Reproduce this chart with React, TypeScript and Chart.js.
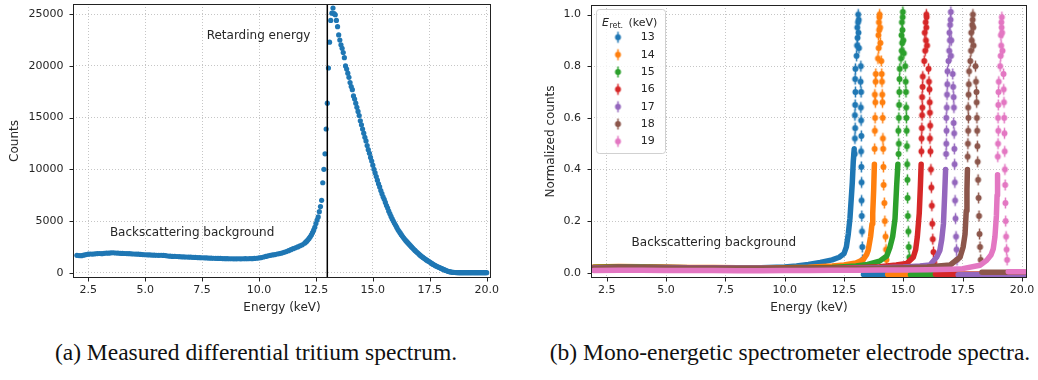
import React, { useEffect, useRef } from "react";
import { Chart, registerables } from "chart.js";

Chart.register(...registerables);

const FONT_FAMILY = '"DejaVu Sans", Verdana, sans-serif';
const TEXT_COLOR = "#262626";
const SERIES_COLORS = ["#1f77b4", "#ff7f0e", "#2ca02c", "#d62728", "#9467bd", "#8c564b", "#e377c2"];

// ---------------- data ----------------
const energyTicks = [2.5, 5, 7.5, 10, 12.5, 15, 17.5, 20];
const countTicks = [0, 5000, 10000, 15000, 20000, 25000];
const normTicks = [0, 0.2, 0.4, 0.6, 0.8, 1.0];
const retardingEnergy = 13;

// (a) measured differential tritium spectrum
const tritiumEnergy = [
  2.0, 2.1, 2.2, 2.3, 2.4, 2.5, 2.6, 2.7, 2.8, 2.9,
  3.0, 3.1, 3.2, 3.3, 3.4, 3.5, 3.6, 3.7, 3.8, 3.9,
  4.0, 4.1, 4.2, 4.3, 4.4, 4.5, 4.6, 4.7, 4.8, 4.9,
  5.0, 5.1, 5.2, 5.3, 5.4, 5.5, 5.6, 5.7, 5.8, 5.9,
  6.0, 6.1, 6.2, 6.3, 6.4, 6.5, 6.6, 6.7, 6.8, 6.9,
  7.0, 7.1, 7.2, 7.3, 7.4, 7.5, 7.6, 7.7, 7.8, 7.9,
  8.0, 8.1, 8.2, 8.3, 8.4, 8.5, 8.6, 8.7, 8.8, 8.9,
  9.0, 9.1, 9.2, 9.3, 9.4, 9.5, 9.6, 9.7, 9.8, 9.9,
  10.0, 10.1, 10.2, 10.3, 10.4, 10.5, 10.6, 10.7, 10.8, 10.9,
  11.0, 11.1, 11.2, 11.3, 11.4, 11.5, 11.6, 11.7, 11.8, 11.9,
  12.0,
  12.05, 12.1, 12.15, 12.2, 12.25, 12.3, 12.35, 12.4, 12.45, 12.5,
  12.55, 12.6, 12.65, 12.7, 12.75, 12.8, 12.85, 12.9, 12.95, 13.0,
  13.05, 13.1, 13.15, 13.2, 13.25, 13.3, 13.35, 13.4, 13.45, 13.5,
  13.55, 13.6, 13.65, 13.7, 13.75, 13.8, 13.85, 13.9, 13.95, 14.0,
  14.05, 14.1, 14.15, 14.2, 14.25, 14.3, 14.35, 14.4, 14.45, 14.5,
  14.55, 14.6, 14.65, 14.7, 14.75, 14.8, 14.85, 14.9, 14.95, 15.0,
  15.05, 15.1, 15.15, 15.2, 15.25, 15.3, 15.35, 15.4, 15.45, 15.5,
  15.55, 15.6, 15.65, 15.7, 15.75, 15.8, 15.85, 15.9, 15.95, 16.0,
  16.05, 16.1, 16.15, 16.2, 16.25, 16.3, 16.35, 16.4, 16.45, 16.5,
  16.55, 16.6, 16.65, 16.7, 16.75, 16.8, 16.85, 16.9, 16.95, 17.0,
  17.05, 17.1, 17.15, 17.2, 17.25, 17.3, 17.35, 17.4, 17.45, 17.5,
  17.55, 17.6, 17.65, 17.7, 17.75, 17.8, 17.85, 17.9, 17.95, 18.0,
  18.05, 18.1, 18.15, 18.2, 18.25, 18.3, 18.35, 18.4, 18.45, 18.5,
  18.55, 18.6, 18.65, 18.7, 18.75, 18.8, 18.85, 18.9, 18.95, 19.0,
  19.05, 19.1, 19.15, 19.2, 19.25, 19.3, 19.35, 19.4, 19.45, 19.5,
  19.55, 19.6, 19.65, 19.7, 19.75, 19.8, 19.85, 19.9, 19.95, 20.0,
];
const tritiumCounts = [
  1680, 1660, 1650, 1700, 1760, 1790, 1810, 1800, 1830, 1850,
  1860, 1840, 1880, 1900, 1890, 1920, 1930, 1910, 1900, 1880,
  1870, 1860, 1850, 1840, 1830, 1810, 1800, 1790, 1770, 1760,
  1740, 1730, 1720, 1710, 1700, 1690, 1680, 1690, 1670, 1660,
  1620, 1600, 1580, 1590, 1570, 1550, 1540, 1530, 1520, 1510,
  1500, 1490, 1480, 1470, 1460, 1450, 1440, 1430, 1420, 1410,
  1400, 1390, 1380, 1380, 1370, 1360, 1360, 1350, 1350, 1340,
  1340, 1350, 1340, 1350, 1360, 1350, 1370, 1360, 1380, 1400,
  1430, 1470, 1520, 1580, 1630, 1680, 1720, 1760, 1810, 1850,
  1900, 1970, 2050, 2130, 2230, 2330, 2410, 2500, 2600, 2700,
  2850,
  2950, 3050, 3180, 3320, 3480, 3660, 3870, 4120, 4400, 4750,
  5100, 5400, 5900, 6400, 7000, 8700, 10000, 11500, 13900, 16400,
  19800, 22300, 24400, 25100, 25600, 25050, 24950, 24400, 23800, 23000,
  22500, 22050, 21700, 21300, 20800, 20000, 19700, 19300, 18900, 18400,
  18000, 17700, 17100, 16800, 16400, 16000, 15600, 15200, 14700, 14300,
  13900, 13500, 13100, 12750, 12300, 11900, 11550, 11150, 10800, 10400,
  10000, 9650, 9300, 8950, 8600, 8300, 7950, 7650, 7350, 7100,
  6800, 6500, 6250, 5950, 5700, 5450, 5200, 5000, 4780, 4580,
  4380, 4180, 4000, 3850, 3680, 3520, 3380, 3240, 3100, 2980,
  2860, 2740, 2620, 2500, 2380, 2270, 2160, 2050, 1950, 1850,
  1750, 1650, 1560, 1480, 1400, 1320, 1240, 1170, 1100, 1030,
  960, 880, 800, 740, 680, 620, 570, 520, 470, 420,
  370, 320, 270, 220, 180, 140, 110, 80, 60, 40,
  30, 20, 15, 10, 8, 6, 5, 4, 4, 3,
  3, 3, 2, 2, 2, 2, 2, 2, 2, 2,
  2, 2, 2, 2, 2, 2, 2, 2, 2, 2,
];

// (b) mono-energetic electrode spectra: [energy keV, normalized counts]
const electrodeEnergies = [13, 14, 15, 16, 17, 18, 19];

// dense continuum below each peak (background + rising edge)
const rise13 = [[1.95, 0.021], [3, 0.022], [4, 0.021], [5, 0.02], [6, 0.019], [7, 0.019], [8, 0.018], [9, 0.019], [10, 0.022], [10.5, 0.026], [11, 0.032], [11.5, 0.04], [12, 0.05], [12.3, 0.06], [12.5, 0.074], [12.6, 0.1], [12.68, 0.15], [12.75, 0.21], [12.8, 0.28], [12.85, 0.35], [12.89, 0.43], [12.93, 0.48]];
const rise14 = [[1.95, 0.022], [3, 0.024], [4, 0.023], [5, 0.021], [6, 0.02], [7, 0.02], [8, 0.019], [9, 0.019], [10, 0.019], [11, 0.021], [12, 0.026], [12.5, 0.03], [13, 0.038], [13.3, 0.05], [13.45, 0.07], [13.52, 0.087], [13.62, 0.14], [13.68, 0.19], [13.71, 0.23], [13.75, 0.32], [13.78, 0.42]];
const rise15 = [[1.95, 0.02], [3, 0.023], [4, 0.022], [5, 0.02], [6, 0.019], [7, 0.018], [8, 0.018], [9, 0.018], [10, 0.018], [11, 0.018], [12, 0.02], [13, 0.026], [13.5, 0.032], [14, 0.045], [14.3, 0.065], [14.44, 0.1], [14.55, 0.14], [14.65, 0.21], [14.72, 0.34], [14.77, 0.42]];
const rise16 = [[1.95, 0.019], [3, 0.021], [4, 0.02], [5, 0.02], [6, 0.019], [7, 0.018], [8, 0.017], [9, 0.017], [10, 0.017], [11, 0.017], [12, 0.017], [13, 0.019], [14, 0.023], [14.7, 0.03], [15.14, 0.036], [15.42, 0.06], [15.52, 0.09], [15.59, 0.14], [15.67, 0.23], [15.72, 0.34], [15.75, 0.42]];
const rise17 = [[1.95, 0.018], [3, 0.02], [4, 0.02], [5, 0.019], [6, 0.018], [7, 0.018], [8, 0.017], [9, 0.017], [10, 0.016], [11, 0.016], [12, 0.016], [13, 0.017], [14, 0.019], [15, 0.022], [15.7, 0.026], [16.12, 0.03], [16.4, 0.06], [16.54, 0.087], [16.62, 0.13], [16.69, 0.19], [16.74, 0.3], [16.78, 0.4]];
const rise18 = [[1.95, 0.017], [3, 0.019], [4, 0.019], [5, 0.018], [6, 0.017], [7, 0.017], [8, 0.016], [9, 0.016], [10, 0.016], [11, 0.016], [12, 0.016], [13, 0.016], [14, 0.017], [15, 0.019], [16, 0.022], [16.97, 0.03], [17.39, 0.06], [17.52, 0.1], [17.6, 0.15], [17.65, 0.24], [17.68, 0.32], [17.7, 0.4]];
const rise19 = [[1.95, 0.009], [3, 0.01], [4, 0.01], [5, 0.009], [6, 0.009], [7, 0.009], [8, 0.008], [9, 0.008], [10, 0.009], [11, 0.009], [12, 0.01], [13, 0.01], [14, 0.011], [15, 0.011], [16, 0.012], [17, 0.014], [17.5, 0.016], [18.23, 0.029], [18.51, 0.048], [18.7, 0.07], [18.79, 0.093], [18.86, 0.14], [18.92, 0.22], [18.95, 0.3], [18.97, 0.38]];

// individual points around each peak
const peak13 = [[12.95, 0.46], [12.96, 0.52], [12.97, 0.56], [12.96, 0.61], [12.97, 0.65], [12.98, 0.7], [12.97, 0.75], [12.98, 0.79], [13.03, 0.84], [13.05, 0.88], [13.07, 0.91], [13.06, 0.95], [13.09, 0.97], [13.1, 1.0], [13.12, 0.98], [13.11, 0.93], [13.13, 0.87], [13.21, 0.8], [13.2, 0.74], [13.22, 0.7], [13.21, 0.64], [13.22, 0.59], [13.23, 0.53], [13.22, 0.47], [13.23, 0.41], [13.24, 0.35], [13.24, 0.28], [13.25, 0.22], [13.26, 0.16], [13.27, 0.1], [13.28, 0.05]];
const peak14 = [[13.79, 0.48], [13.8, 0.55], [13.81, 0.6], [13.82, 0.66], [13.8, 0.69], [13.83, 0.74], [13.84, 0.77], [13.93, 0.83], [13.96, 0.87], [13.95, 0.92], [13.98, 0.94], [13.97, 0.97], [13.99, 0.99], [14.0, 1.0], [14.02, 0.95], [14.03, 0.89], [14.07, 0.82], [14.09, 0.77], [14.1, 0.74], [14.11, 0.69], [14.12, 0.66], [14.13, 0.6], [14.14, 0.52], [14.15, 0.48], [14.16, 0.41], [14.17, 0.34], [14.2, 0.27], [14.22, 0.2], [14.25, 0.14], [14.27, 0.09], [14.29, 0.05]];
const peak15 = [[14.8, 0.46], [14.81, 0.5], [14.79, 0.55], [14.81, 0.6], [14.82, 0.65], [14.83, 0.7], [14.84, 0.75], [14.85, 0.79], [14.9, 0.83], [14.93, 0.86], [14.95, 0.89], [14.92, 0.92], [14.96, 0.94], [14.94, 0.97], [14.97, 0.99], [14.98, 1.01], [15.0, 0.9], [15.02, 0.85], [15.08, 0.8], [15.1, 0.74], [15.11, 0.7], [15.12, 0.64], [15.13, 0.6], [15.14, 0.55], [15.15, 0.49], [15.16, 0.42], [15.17, 0.36], [15.18, 0.29], [15.19, 0.22], [15.21, 0.16], [15.23, 0.1], [15.25, 0.06]];
const peak16 = [[15.76, 0.47], [15.77, 0.52], [15.78, 0.56], [15.79, 0.61], [15.8, 0.64], [15.79, 0.68], [15.81, 0.72], [15.82, 0.76], [15.88, 0.82], [15.92, 0.86], [15.95, 0.9], [15.9, 0.93], [15.97, 0.95], [15.94, 0.97], [15.98, 0.99], [15.97, 1.0], [16.0, 0.88], [16.06, 0.79], [16.08, 0.74], [16.1, 0.71], [16.11, 0.66], [16.12, 0.62], [16.13, 0.57], [16.12, 0.52], [16.14, 0.47], [16.16, 0.4], [16.18, 0.33], [16.2, 0.26], [16.22, 0.19], [16.24, 0.13], [16.27, 0.08], [16.3, 0.04]];
const peak17 = [[16.8, 0.46], [16.81, 0.5], [16.82, 0.55], [16.81, 0.6], [16.83, 0.64], [16.84, 0.69], [16.85, 0.73], [16.86, 0.78], [16.9, 0.82], [16.93, 0.86], [16.96, 0.9], [16.94, 0.93], [16.97, 0.96], [16.99, 0.98], [17.0, 1.01], [17.02, 0.9], [17.01, 0.84], [17.08, 0.77], [17.1, 0.72], [17.12, 0.68], [17.13, 0.64], [17.12, 0.58], [17.14, 0.54], [17.15, 0.48], [17.16, 0.42], [17.17, 0.35], [17.18, 0.28], [17.2, 0.21], [17.22, 0.14], [17.24, 0.09], [17.26, 0.05]];
const peak18 = [[17.71, 0.45], [17.72, 0.5], [17.73, 0.55], [17.74, 0.6], [17.73, 0.64], [17.75, 0.69], [17.76, 0.73], [17.77, 0.78], [17.82, 0.82], [17.85, 0.86], [17.88, 0.9], [17.86, 0.93], [17.9, 0.96], [17.92, 0.98], [17.93, 1.0], [17.95, 0.95], [17.96, 0.88], [18.04, 0.8], [18.06, 0.74], [18.08, 0.7], [18.09, 0.66], [18.1, 0.6], [18.11, 0.55], [18.12, 0.49], [18.13, 0.43], [18.15, 0.36], [18.17, 0.29], [18.19, 0.22], [18.21, 0.15], [18.23, 0.1], [18.26, 0.05]];
const peak19 = [[18.98, 0.45], [18.99, 0.5], [19.0, 0.55], [18.99, 0.6], [19.0, 0.65], [19.01, 0.7], [19.02, 0.74], [19.08, 0.8], [19.1, 0.84], [19.12, 0.88], [19.11, 0.92], [19.14, 0.95], [19.13, 0.97], [19.15, 0.99], [19.16, 0.93], [19.18, 0.86], [19.22, 0.77], [19.23, 0.71], [19.24, 0.66], [19.25, 0.6], [19.26, 0.54], [19.27, 0.47], [19.28, 0.4], [19.29, 0.34], [19.3, 0.27], [19.31, 0.2], [19.33, 0.14], [19.35, 0.09], [19.37, 0.05]];

// continuum above each peak
const tail13 = [[13.32, -0.007], [15, -0.008], [17, -0.007], [20.1, -0.007]];
const tail14 = [[14.34, -0.007], [16, -0.007], [18, -0.007], [20.1, -0.007]];
const tail15 = [[15.3, -0.008], [17, -0.008], [20.1, -0.008]];
const tail16 = [[16.35, -0.006], [18, -0.006], [20.1, -0.006]];
const tail17 = [[17.31, -0.008], [19, -0.008], [20.1, -0.008]];
const tail18 = [[18.31, 0.002], [19.2, 0.002], [20.1, 0.002]];
const tail19 = [[19.42, 0.004], [20.12, 0.004]];

const riseSets = [rise13, rise14, rise15, rise16, rise17, rise18, rise19];
const peakSets = [peak13, peak14, peak15, peak16, peak17, peak18, peak19];
const tailSets = [tail13, tail14, tail15, tail16, tail17, tail18, tail19];

// ---------------- helpers ----------------
Chart.defaults.font.family = FONT_FAMILY;
Chart.defaults.font.size = 11;
Chart.defaults.color = TEXT_COLOR;

type Note = { text: string; x: number; y: number };

function makeMarker(color: string): HTMLCanvasElement {
  const c = document.createElement("canvas");
  c.width = 9;
  c.height = 14;
  const g = c.getContext("2d")!;
  g.strokeStyle = color;
  g.lineWidth = 1.5;
  g.beginPath();
  g.moveTo(4.5, 1.5);
  g.lineTo(4.5, 12.5);
  g.stroke();
  g.fillStyle = color;
  g.beginPath();
  g.arc(4.5, 7, 3, 0, Math.PI * 2);
  g.fill();
  return c;
}

function zeroPad(s: any) {
  s.paddingTop = 0;
  s.paddingBottom = 0;
  s.paddingLeft = 0;
  s.paddingRight = 0;
}

function xAxis(min: number, max: number) {
  return {
    type: "linear" as const,
    min,
    max,
    afterBuildTicks: (s: any) => {
      s.ticks = energyTicks.map((v) => ({ value: v }));
    },
    afterFit: (s: any) => {
      s.height = 42;
      zeroPad(s);
    },
    ticks: {
      autoSkip: false,
      maxRotation: 0,
      padding: 6,
      color: TEXT_COLOR,
      font: { size: 11 },
      callback: (v: any) => Number(v).toFixed(1),
    },
    grid: { color: "#b8b8b8", lineWidth: 0.8, drawTicks: false },
    border: { display: false, dash: [1, 2] },
    title: { display: true, text: "Energy (keV)", color: TEXT_COLOR, font: { size: 12 }, padding: { top: 0, bottom: 4.8 } },
  };
}

function yAxis(min: number, max: number, tickVals: number[], fmt: (v: number) => string, title: string, width: number, titlePad: number, pad: number) {
  return {
    type: "linear" as const,
    min,
    max,
    afterBuildTicks: (s: any) => {
      s.ticks = tickVals.map((v) => ({ value: v }));
    },
    afterFit: (s: any) => {
      s.width = width;
      zeroPad(s);
    },
    ticks: {
      autoSkip: false,
      padding: pad,
      color: TEXT_COLOR,
      font: { size: 11 },
      callback: (v: any) => fmt(Number(v)),
    },
    grid: { color: "#b8b8b8", lineWidth: 0.8, drawTicks: false },
    border: { display: false, dash: [1, 2] },
    title: { display: true, text: title, color: TEXT_COLOR, font: { size: 12 }, padding: { top: titlePad, bottom: 0 } },
  };
}

function decorPlugin(cfg: { vline?: number; notes: Note[]; legend?: { labels: string[]; markers: HTMLCanvasElement[] } }) {
  return {
    id: "decor",
    afterDatasetsDraw(chart: any) {
      const { ctx, chartArea: a } = chart;
      const xs = chart.scales.x;
      const ys = chart.scales.y;
      ctx.save();
      if (cfg.vline != null) {
        const px = xs.getPixelForValue(cfg.vline);
        ctx.strokeStyle = "#000";
        ctx.lineWidth = 1.5;
        ctx.beginPath();
        ctx.moveTo(px, a.top);
        ctx.lineTo(px, a.bottom);
        ctx.stroke();
      }
      ctx.font = `12px ${FONT_FAMILY}`;
      ctx.fillStyle = TEXT_COLOR;
      ctx.textBaseline = "middle";
      ctx.textAlign = "left";
      for (const n of cfg.notes) {
        ctx.fillText(n.text, xs.getPixelForValue(n.x), ys.getPixelForValue(n.y));
      }
      // frame
      const L = Math.round(a.left) + 0.5;
      const T = Math.round(a.top) + 0.5;
      const R = Math.round(a.right) - 0.5;
      const B = Math.round(a.bottom) - 0.5;
      ctx.strokeStyle = "#222";
      ctx.lineWidth = 1;
      ctx.setLineDash([]);
      ctx.strokeRect(L, T, R - L, B - T);
      // tick marks
      ctx.beginPath();
      for (const t of xs.ticks) {
        const px = Math.round(xs.getPixelForValue(t.value)) + 0.5;
        ctx.moveTo(px, B);
        ctx.lineTo(px, B + 4);
      }
      for (const t of ys.ticks) {
        const py = Math.round(ys.getPixelForValue(t.value)) + 0.5;
        ctx.moveTo(L - 4, py);
        ctx.lineTo(L, py);
      }
      ctx.stroke();
      // legend
      if (cfg.legend) {
        const lx = a.left + 5;
        const ly = a.top + 4;
        ctx.beginPath();
        ctx.roundRect(Math.round(lx) + 0.5, Math.round(ly) + 0.5, 69, 144, 3);
        ctx.fillStyle = "rgba(255,255,255,0.8)";
        ctx.fill();
        ctx.strokeStyle = "rgba(204,204,204,0.9)";
        ctx.lineWidth = 1;
        ctx.stroke();
        ctx.fillStyle = TEXT_COLOR;
        ctx.textBaseline = "alphabetic";
        ctx.font = `italic 11px ${FONT_FAMILY}`;
        ctx.fillText("E", a.left + 11, a.top + 20.5);
        const eW = ctx.measureText("E").width;
        ctx.font = `8px ${FONT_FAMILY}`;
        ctx.fillText("ret.", a.left + 11 + eW + 0.5, a.top + 23);
        ctx.font = `11px ${FONT_FAMILY}`;
        ctx.fillText("(keV)", a.left + 37.5, a.top + 20.5);
        ctx.textBaseline = "middle";
        cfg.legend.labels.forEach((lab, i) => {
          const cy = a.top + 32.3 + i * 17.35;
          const m = cfg.legend!.markers[i];
          ctx.drawImage(m, a.left + 27 - m.width / 2, cy - m.height / 2);
          ctx.fillText(lab, a.left + 49.7, cy);
        });
      }
      ctx.restore();
    },
  };
}

// ---------------- components ----------------
function TritiumChart() {
  const ref = useRef<HTMLCanvasElement>(null);
  useEffect(() => {
    const chart = new Chart(ref.current!, {
      type: "scatter",
      data: {
        datasets: [
          {
            data: tritiumEnergy.map((e, i) => ({ x: e, y: tritiumCounts[i] })),
            backgroundColor: SERIES_COLORS[0],
            borderWidth: 0,
            pointRadius: 2.6,
          },
        ],
      },
      options: {
        animation: false,
        responsive: false,
        events: [],
        layout: { padding: { top: 2, right: 9, left: 0, bottom: 0 } },
        plugins: { legend: { display: false }, tooltip: { enabled: false } },
        scales: {
          x: xAxis(1.83, 20.19),
          y: yAxis(-510, 25990, countTicks, (v) => String(Math.round(v)), "Counts", 73, 7.8, 9.5),
        },
      } as any,
      plugins: [
        decorPlugin({
          vline: retardingEnergy,
          notes: [
            { text: "Retarding energy", x: 7.7, y: 22900 },
            { text: "Backscattering background", x: 3.45, y: 3900 },
          ],
        }),
      ],
    });
    return () => chart.destroy();
  }, []);
  return <canvas ref={ref} width={500} height={320} style={{ position: "absolute", left: 0, top: 0 }} />;
}

function ElectrodeChart() {
  const ref = useRef<HTMLCanvasElement>(null);
  useEffect(() => {
    const markers = SERIES_COLORS.map((c) => makeMarker(c));
    const datasets: any[] = [];
    const n = electrodeEnergies.length;
    electrodeEnergies.forEach((e, i) => {
      const color = SERIES_COLORS[i];
      const rise = riseSets[i];
      const order = (n - i) * 2;
      datasets.push({
        label: `${e}`,
        data: [
          ...rise.map(([x, y]) => ({ x, y })),
          { x: rise[rise.length - 1][0], y: null },
          ...tailSets[i].map(([x, y]) => ({ x, y })),
        ],
        showLine: true,
        spanGaps: false,
        borderColor: color,
        backgroundColor: color,
        borderWidth: 5.5,
        borderJoinStyle: "round",
        borderCapStyle: "round",
        pointRadius: 0,
        order: order + 1,
      });
      datasets.push({
        label: `${e}`,
        data: peakSets[i].map(([x, y]) => ({ x, y })),
        pointStyle: markers[i],
        pointRadius: 4,
        backgroundColor: color,
        borderColor: color,
        order,
      });
    });
    const chart = new Chart(ref.current!, {
      type: "scatter",
      data: { datasets },
      options: {
        animation: false,
        responsive: false,
        events: [],
        layout: { padding: { top: 2, right: 11, left: 0, bottom: 0 } },
        plugins: { legend: { display: false }, tooltip: { enabled: false } },
        scales: {
          x: xAxis(1.84, 20.21),
          y: yAxis(-0.0203, 1.037, normTicks, (v) => v.toFixed(1), "Normalized counts", 61, 13.8, 10),
        },
      } as any,
      plugins: [
        decorPlugin({
          notes: [{ text: "Backscattering background", x: 3.55, y: 0.117 }],
          legend: { labels: electrodeEnergies.map((e) => String(e)), markers },
        }),
      ],
    });
    return () => chart.destroy();
  }, []);
  return <canvas ref={ref} width={508} height={320} style={{ position: "absolute", left: 530, top: 0 }} />;
}

const captionStyle: React.CSSProperties = {
  position: "absolute",
  top: 338,
  height: 28,
  lineHeight: "28px",
  fontFamily: '"Liberation Serif", "Times New Roman", serif',
  fontSize: 23.5,
  color: "#111",
  textAlign: "center",
  whiteSpace: "nowrap",
};

export default function App() {
  return (
    <div style={{ position: "absolute", left: 0, top: 0, width: 1038, height: 380, background: "#fff", overflow: "hidden" }}>
      <TritiumChart />
      <ElectrodeChart />
      <div style={{ ...captionStyle, left: 0, width: 512 }}>(a) Measured differential tritium spectrum.</div>
      <div style={{ ...captionStyle, left: 542, width: 496 }}>(b) Mono-energetic spectrometer electrode spectra.</div>
    </div>
  );
}
